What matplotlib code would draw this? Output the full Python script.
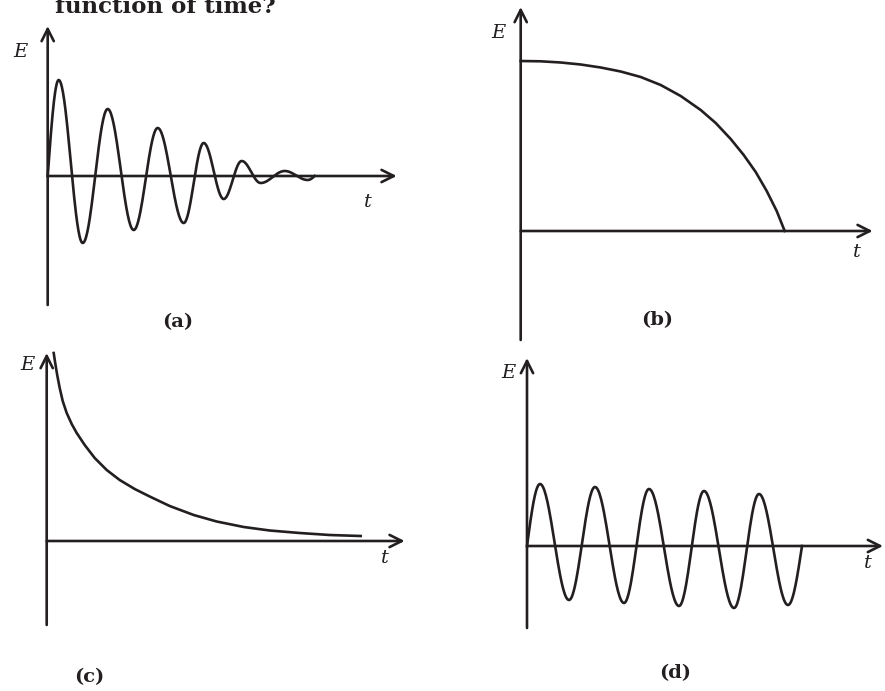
import numpy as np
import matplotlib
matplotlib.use("Agg")
import matplotlib.pyplot as plt

plt.rcParams['font.family'] = ['DejaVu Serif']

# (a) damped oscillation: extrema (t, E)
a_ext_t = [1.1, 3.5, 6.0, 8.6, 11.0, 13.6, 15.6, 17.6, 19.4, 21.3, 23.7, 26.0]
a_ext_E = [9.6, -6.7, 6.7, -5.4, 4.8, -4.7, 3.3, -2.3, 1.5, -0.7, 0.5, -0.4]
a_end_t = 26.7

# (b) energy falling to zero
b_t = [0, 2, 4, 6, 8, 10, 12, 14, 16, 18, 19.5, 21, 22.3, 23.5, 24.6, 25.6, 26.4]
b_E = [17.0, 16.97, 16.85, 16.65, 16.35, 15.95, 15.4, 14.6, 13.5, 12.1, 10.8, 9.2,
       7.6, 5.9, 4.0, 2.0, 0.0]

# (c) decaying energy
c_t = [0.7, 0.85, 1.05, 1.3, 1.6, 2.0, 2.5, 3.0, 3.8, 4.8, 6.0, 7.3, 8.8, 10.3, 12.3,
       14.7, 17.0, 19.7, 22.3, 25.3, 28.3, 31.4]
c_E = [18.8, 17.8, 16.6, 15.3, 14.0, 12.8, 11.7, 10.8, 9.6, 8.3, 7.1, 6.1, 5.2, 4.45,
       3.5, 2.6, 1.95, 1.4, 1.05, 0.8, 0.6, 0.5]

# (d) undamped oscillation: extrema
d_ext_t = [1.3, 4.2, 6.8, 9.7, 12.2, 15.2, 17.7, 20.7, 23.2, 26.1]
d_ext_E = [6.2, -5.4, 5.9, -5.7, 5.7, -6.0, 5.5, -6.2, 5.2, -5.9]
d_end_t = 27.5

# panel origins in pixels, arrow extents (data units), label positions
origins = {'a': (47.7, 176), 'b': (520.7, 231), 'c': (46.7, 541), 'd': (527, 546)}
axis_ext = {'a': (34.9, -12.9, 15.0), 'b': (35.2, -10.9, 22.4),
            'c': (35.8, -8.4, 18.8), 'd': (35.6, -8.2, 18.8)}
E_lab = {'a': (-2.7, 12.4), 'b': (-2.2, 19.8), 'c': (-1.9, 17.6), 'd': (-1.9, 17.3)}
t_lab = {'a': (32.0, -2.6), 'b': (33.6, -2.1), 'c': (33.8, -1.7), 'd': (34.1, -1.7)}
captions = {'a': (178, 322), 'b': (657, 320), 'c': (89, 677), 'd': (675, 673)}

W, H = 885, 691
lw = 1.9
ink = '#231f20'


def wave(ext_t, ext_E, end_t):
    # smooth curve through the read extrema, starting and ending on the axis
    ts, Es = [], []
    s = np.linspace(0, 1, 40)
    ts.append(ext_t[0] * s)
    Es.append(ext_E[0] * np.sin(np.pi / 2 * s))
    for i in range(len(ext_t) - 1):
        t0, t1 = ext_t[i], ext_t[i + 1]
        e0, e1 = ext_E[i], ext_E[i + 1]
        ts.append(t0 + (t1 - t0) * s)
        Es.append((e0 + e1) / 2 + (e0 - e1) / 2 * np.cos(np.pi * s))
    ts.append(ext_t[-1] + (end_t - ext_t[-1]) * s)
    Es.append(ext_E[-1] * np.cos(np.pi / 2 * s))
    return np.concatenate(ts), np.concatenate(Es)


fig = plt.figure(figsize=(W / 100, H / 100), dpi=100)

axes = {}
for k, (ox, oy) in origins.items():
    ax = fig.add_axes([0, 0, 1, 1])
    ax.set_xlim(-ox / 10, (W - ox) / 10)
    ax.set_ylim(-(H - oy) / 10, oy / 10)
    ax.axis('off')
    ax.patch.set_alpha(0)
    xmax, ymin, ymax = axis_ext[k]
    arrow = dict(arrowstyle='->', lw=lw, color=ink, mutation_scale=22,
                 shrinkA=0, shrinkB=0)
    ax.annotate('', xy=(0, ymax), xytext=(0, ymin), arrowprops=arrow)
    ax.annotate('', xy=(xmax, 0), xytext=(0, 0), arrowprops=arrow)
    ax.text(*E_lab[k], 'E', fontsize=14, style='italic', ha='center', va='center', color=ink)
    ax.text(*t_lab[k], 't', fontsize=14, style='italic', ha='center', va='center', color=ink)
    axes[k] = ax

ta, Ea = wave(a_ext_t, a_ext_E, a_end_t)
axes['a'].plot(ta, Ea, color=ink, lw=lw)
axes['b'].plot(b_t, b_E, color=ink, lw=lw, solid_joinstyle='round')
axes['c'].plot(c_t, c_E, color=ink, lw=lw, solid_joinstyle='round')
td, Ed = wave(d_ext_t, d_ext_E, d_end_t)
axes['d'].plot(td, Ed, color=ink, lw=lw)

for k, (cx, cy) in captions.items():
    fig.text(cx / W, 1 - cy / H, '(%s)' % k, fontsize=14, fontweight='bold',
             ha='center', va='center', color=ink)

fig.text(55 / W, 1 - 13 / H, 'function of time?', fontsize=16.5, fontweight='bold',
         ha='left', va='baseline', color=ink)

fig.savefig('out.png', dpi=100)
